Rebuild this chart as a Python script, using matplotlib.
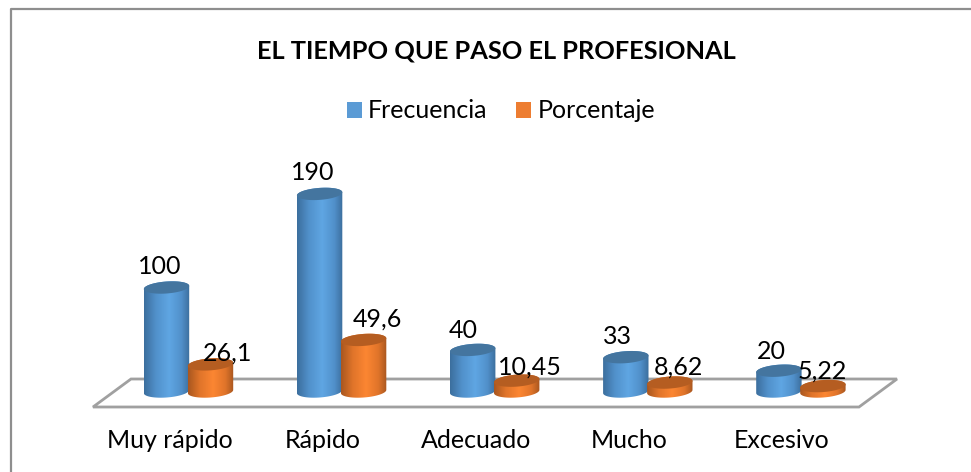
## El tiempo que paso el profesional - fake 3D cylinders
import numpy as np
import matplotlib
matplotlib.use("Agg")
import matplotlib.pyplot as plt
from matplotlib.patches import Polygon, Patch
from matplotlib.colors import LinearSegmentedColormap
from matplotlib.transforms import Affine2D

categorias = ["Muy rápido", "Rápido", "Adecuado", "Mucho", "Excesivo"]
frecuencia = [100, 190, 40, 33, 20]
porcentaje = [26.1, 49.6, 10.45, 8.62, 5.22]
etiquetas_frec = ["100", "190", "40", "33", "20"]
etiquetas_porc = ["26,1", "49,6", "10,45", "8,62", "5,22"]

# label nudges in pixels, the original labels were not placed evenly
dx_frec = [-7, -7, -9, -8, -8]
dx_porc = [17, 14, 13, 9, -1]
dy_frec = [21, 21, 19, 21, 19]
dy_porc = [11, 21, 14, 15, 15]

W, H = 971, 472
SX = 153.1    # px per category
SY = 1.04     # px per value
X0, Y0 = 166.5, 391.5
HALF_W = 22.7
RY = 6.0
TILT = 0.07
OFFSET = 44

plt.rcParams['font.family'] = ['Lato', 'DejaVu Sans']

fig = plt.figure(figsize=(W / 100, H / 100), dpi=100)
ax = fig.add_axes([0, 0, 1, 1])
ax.set_xlim(-X0 / SX, (W - X0) / SX)
ax.set_ylim((Y0 - H) / SY, Y0 / SY)
ax.axis('off')

# pixel coordinates, y going down, for the frame and floor
px = Affine2D().scale(1, -1).translate(0, H) + Affine2D().scale(fig.dpi / 100)

ax.plot([11, 11, W], [H, 9, 9], color='#8e8e8e', lw=1.6, transform=px, clip_on=False)
ax.add_patch(Polygon([(93, 407), (131, 379), (897, 379), (859, 407)], closed=True,
                     fc='white', ec='#a0a0a0', lw=2, transform=px))


def elipse(xc, v, t):
    # point on the tilted ellipse, returned in data units
    ex = HALF_W * np.cos(t)
    ey = RY * np.sin(t) + TILT * ex
    return xc + ex / SX, v + ey / SY


def cilindro(xc, v, oscuro, medio, claro, tapa, z):
    t = np.linspace(np.pi, 2 * np.pi, 40)
    xb, yb = elipse(xc, 0, t)
    xt, yt = elipse(xc, v, t - np.pi)
    cuerpo = Polygon(np.r_[np.c_[xb, yb], np.c_[xt, yt]], closed=True, fc='none', ec='none')
    ax.add_patch(cuerpo)
    cmap = LinearSegmentedColormap.from_list(
        'c', [(0, oscuro), (0.25, medio), (0.55, claro), (0.82, medio), (1, oscuro)])
    extent = [xc - HALF_W / SX, xc + HALF_W / SX, -RY * 2 / SY, v + RY * 2 / SY]
    im = ax.imshow(np.linspace(0, 1, 64)[None, :], cmap=cmap, extent=extent, aspect='auto',
                   interpolation='bilinear', zorder=z)
    im.set_clip_path(cuerpo)
    t2 = np.linspace(0, 2 * np.pi, 60)
    xc2, yc2 = elipse(xc, v, t2)
    ax.add_patch(Polygon(np.c_[xc2, yc2], closed=True, fc=tapa, ec='none', zorder=z))


for i in range(len(categorias)):
    cilindro(i, frecuencia[i], '#3c6f9e', '#5190ca', '#5fa6e3', '#44759f', 2)
    cilindro(i + OFFSET / SX, porcentaje[i], '#a9571f', '#e0742a', '#fc8632', '#b55d21', 2.1)
    ax.text(i + dx_frec[i] / SX, frecuencia[i] + dy_frec[i] / SY, etiquetas_frec[i],
            ha='center', va='center', fontsize=18, color='black', zorder=3)
    ax.text(i + (OFFSET + dx_porc[i]) / SX, porcentaje[i] + dy_porc[i] / SY, etiquetas_porc[i],
            ha='center', va='center', fontsize=18, color='black', zorder=3)
    ax.text(i + 3 / SX, -49 / SY, categorias[i], ha='center', va='center', fontsize=18, color='black')

ax.set_xlim(-X0 / SX, (W - X0) / SX)
ax.set_ylim((Y0 - H) / SY, Y0 / SY)

fig.text(496 / W, 1 - 51 / H, "EL TIEMPO QUE PASO EL PROFESIONAL", ha='center', va='center',
         fontsize=18.3, fontweight='bold', color='black')

fig.legend(handles=[Patch(fc='#5b9bd5', ec='none', label='Frecuencia'),
                    Patch(fc='#ed7d31', ec='none', label='Porcentaje')],
           loc='center', bbox_to_anchor=(501 / W, 1 - 111 / H), ncol=2, frameon=False,
           fontsize=18, handlelength=0.6, handleheight=0.6, handletextpad=0.25,
           columnspacing=1.16, borderpad=0)

fig.savefig('out.png', dpi=100)
